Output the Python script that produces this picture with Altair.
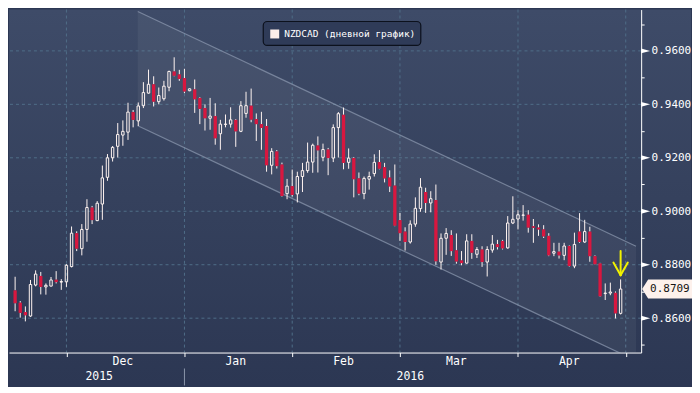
import altair as alt
import pandas as pd

# ---------------- data ----------------
series_name = "NZDCAD (дневной график)"
opens = [0.8704, 0.8658, 0.8623, 0.8608, 0.8724, 0.8758, 0.8717, 0.8720, 0.8744, 0.8735,
         0.8736, 0.8793, 0.8918, 0.8860, 0.8932, 0.9014, 0.8965, 0.9027, 0.9127, 0.9200,
         0.9243, 0.9285, 0.9296, 0.9371, 0.9338, 0.9395, 0.9442, 0.9475, 0.9410, 0.9421,
         0.9464, 0.9523, 0.9512, 0.9498, 0.9451, 0.9456, 0.9424, 0.9386, 0.9348, 0.9356,
         0.9290, 0.9325, 0.9326, 0.9342, 0.9299, 0.9366, 0.9395, 0.9345, 0.9326, 0.9319,
         0.9172, 0.9224, 0.9175, 0.9066, 0.9094, 0.9065, 0.9130, 0.9152, 0.9184, 0.9246,
         0.9202, 0.9231, 0.9199, 0.9313, 0.9361, 0.9183, 0.9199, 0.9123, 0.9066, 0.9120,
         0.9141, 0.9184, 0.9165, 0.9126, 0.9096, 0.8967, 0.8924, 0.8885, 0.8952, 0.9010,
         0.9072, 0.9031, 0.9042, 0.8810, 0.8899, 0.8911, 0.8854, 0.8816, 0.8806, 0.8889,
         0.8839, 0.8857, 0.8810, 0.8855, 0.8877, 0.8889, 0.8863, 0.8956, 0.8971, 0.8985,
         0.8987, 0.8944, 0.8939, 0.8932, 0.8908, 0.8843, 0.8849, 0.8835, 0.8870, 0.8795,
         0.8924, 0.8885, 0.8924, 0.8832, 0.8805, 0.8692, 0.8694, 0.8695, 0.8618]
highs = [0.8755, 0.8664, 0.8644, 0.8743, 0.8779, 0.8773, 0.8730, 0.8754, 0.8776, 0.8746,
         0.8802, 0.8943, 0.8925, 0.8952, 0.9045, 0.9020, 0.9038, 0.9171, 0.9214, 0.9244,
         0.9330, 0.9340, 0.9406, 0.9379, 0.9407, 0.9483, 0.9530, 0.9505, 0.9463, 0.9488,
         0.9526, 0.9576, 0.9529, 0.9533, 0.9460, 0.9493, 0.9427, 0.9400, 0.9424, 0.9404,
         0.9342, 0.9362, 0.9389, 0.9345, 0.9412, 0.9447, 0.9459, 0.9366, 0.9372, 0.9345,
         0.9236, 0.9229, 0.9182, 0.9121, 0.9156, 0.9148, 0.9181, 0.9257, 0.9253, 0.9280,
         0.9253, 0.9237, 0.9325, 0.9371, 0.9388, 0.9235, 0.9202, 0.9145, 0.9130, 0.9148,
         0.9213, 0.9229, 0.9181, 0.9153, 0.9175, 0.8994, 0.8940, 0.8966, 0.9052, 0.9124,
         0.9088, 0.9075, 0.9100, 0.8917, 0.8937, 0.8929, 0.8917, 0.8851, 0.8914, 0.8914,
         0.8866, 0.8869, 0.8869, 0.8911, 0.8893, 0.8893, 0.8982, 0.9056, 0.9004, 0.9023,
         0.9004, 0.8971, 0.8951, 0.8948, 0.8918, 0.8882, 0.8882, 0.8882, 0.8872, 0.8920,
         0.8993, 0.8968, 0.8942, 0.8835, 0.8807, 0.8730, 0.8733, 0.8700, 0.8745]
lows = [0.8626, 0.8602, 0.8588, 0.8605, 0.8719, 0.8689, 0.8688, 0.8719, 0.8730, 0.8706,
        0.8717, 0.8790, 0.8851, 0.8835, 0.8886, 0.8952, 0.8963, 0.8968, 0.9114, 0.9186,
        0.9201, 0.9245, 0.9267, 0.9314, 0.9319, 0.9386, 0.9440, 0.9392, 0.9400, 0.9414,
        0.9449, 0.9505, 0.9488, 0.9442, 0.9449, 0.9368, 0.9326, 0.9302, 0.9305, 0.9249,
        0.9230, 0.9314, 0.9313, 0.9241, 0.9296, 0.9350, 0.9333, 0.9263, 0.9230, 0.9148,
        0.9138, 0.9160, 0.9055, 0.9045, 0.9055, 0.9033, 0.9072, 0.9144, 0.9144, 0.9145,
        0.9187, 0.9135, 0.9184, 0.9201, 0.9157, 0.9159, 0.9052, 0.9060, 0.9045, 0.9081,
        0.9130, 0.9157, 0.9108, 0.9072, 0.8944, 0.8889, 0.8853, 0.8879, 0.8942, 0.8998,
        0.8994, 0.8996, 0.8800, 0.8782, 0.8837, 0.8833, 0.8804, 0.8798, 0.8804, 0.8822,
        0.8825, 0.8792, 0.8756, 0.8845, 0.8857, 0.8857, 0.8860, 0.8952, 0.8932, 0.8965,
        0.8920, 0.8882, 0.8908, 0.8900, 0.8832, 0.8832, 0.8823, 0.8817, 0.8793, 0.8787,
        0.8882, 0.8882, 0.8811, 0.8801, 0.8680, 0.8668, 0.8686, 0.8599, 0.8614]
closes = [0.8656, 0.8620, 0.8611, 0.8726, 0.8765, 0.8717, 0.8723, 0.8743, 0.8735, 0.8737,
          0.8798, 0.8918, 0.8860, 0.8932, 0.9014, 0.8967, 0.9030, 0.9125, 0.9200, 0.9239,
          0.9287, 0.9299, 0.9371, 0.9342, 0.9394, 0.9444, 0.9475, 0.9410, 0.9433, 0.9468,
          0.9523, 0.9507, 0.9495, 0.9448, 0.9458, 0.9419, 0.9383, 0.9348, 0.9356, 0.9273,
          0.9326, 0.9326, 0.9342, 0.9299, 0.9395, 0.9395, 0.9343, 0.9326, 0.9312, 0.9172,
          0.9224, 0.9169, 0.9057, 0.9094, 0.9061, 0.9130, 0.9152, 0.9184, 0.9247, 0.9228,
          0.9231, 0.9199, 0.9313, 0.9365, 0.9181, 0.9199, 0.9120, 0.9066, 0.9123, 0.9130,
          0.9183, 0.9159, 0.9123, 0.9093, 0.8946, 0.8918, 0.8885, 0.8952, 0.9011, 0.9090,
          0.9031, 0.9047, 0.8813, 0.8899, 0.8917, 0.8851, 0.8812, 0.8806, 0.8889, 0.8845,
          0.8857, 0.8810, 0.8857, 0.8877, 0.8866, 0.8861, 0.8956, 0.8970, 0.8987, 0.8986,
          0.8939, 0.8938, 0.8932, 0.8906, 0.8835, 0.8849, 0.8835, 0.8870, 0.8795, 0.8876,
          0.8885, 0.8924, 0.8832, 0.8802, 0.8682, 0.8694, 0.8698, 0.8618, 0.8709]
day = list(range(1, len(closes) + 1))          # trading-day index

month_starts = [11, 34, 55, 76, 99, 120]       # first trading day of Dec..May
month_mid = [22, 44, 65, 87, 109]
month_names = ["Dec", "Jan", "Feb", "Mar", "Apr"]
year_names = ["2015", "2016"]
year_start = 34
y_major = [0.86, 0.88, 0.90, 0.92, 0.94, 0.96]
y_ticks = [0.85, 0.86, 0.87, 0.88, 0.89, 0.90, 0.91, 0.92, 0.93, 0.94, 0.95, 0.96, 0.97]

chan_x = [24.9, 122.0]
chan_upper = [0.97475, 0.8869]
chan_lower = [0.9320, 0.84413]

arrow_x = 119
arrow_top, arrow_tip, arrow_wing, arrow_dx = 0.8851, 0.8761, 0.8808, 1.4

# ---------------- layout ----------------
W, H = 634, 344
X_DOM = [0.78, 122.03]
Y_DOM = [0.847143, 0.975464]
FONT = "DejaVu Sans Mono"
RED = "#d8173f"
WHITE = "#fff4f1"
GRID = "#4f6d88"

xs = alt.Scale(domain=X_DOM, nice=False, zero=False)
ys = alt.Scale(domain=Y_DOM, nice=False, zero=False)

label_expr = "(round(datum.value*100) % 2 == 0) ? format(datum.value, '.4f') : ''"
XAX = alt.Axis(values=month_starts, labels=False, ticks=True, tickSize=4, domain=True,
               grid=False, domainColor="white", tickColor="white", zindex=2, title=None)
YAX = alt.Axis(orient="right", values=y_ticks, labelExpr=label_expr, tickSize=3,
               labelPadding=7, grid=False, domainColor="white", tickColor="white",
               labelColor="white", labelFont=FONT, labelFontSize=11, zindex=2, title=None)


def X(f, **kw):
    return alt.X(f, type="quantitative", scale=xs, axis=XAX, title=None, **kw)


def Y(f, **kw):
    return alt.Y(f, type="quantitative", scale=ys, axis=YAX, title=None, **kw)


df = pd.DataFrame(dict(day=day, open=opens, high=highs, low=lows, close=closes))
df["top"] = df[["open", "close"]].max(axis=1)
df["bot"] = df[["open", "close"]].min(axis=1)

one = pd.DataFrame({"k": [0]})

bg = alt.Chart(one).mark_rect(
    color={"gradient": "linear", "x1": 0, "y1": 0, "x2": 0, "y2": 1,
           "stops": [{"offset": 0, "color": "#3e4b68"},
                     {"offset": 0.5, "color": "#35415d"},
                     {"offset": 1, "color": "#2c3753"}]}
).encode(x=alt.value(0), x2=alt.value(W + 50), y=alt.value(0), y2=alt.value(H + 33))

hgrid = alt.Chart(pd.DataFrame({"v": y_major})).mark_rule(
    color=GRID, strokeDash=[3, 3], strokeWidth=1).encode(y=Y("v"))
vgrid = alt.Chart(pd.DataFrame({"d": month_starts})).mark_rule(
    color=GRID, strokeDash=[3, 3], strokeWidth=1).encode(x=X("d"))

chan_df = pd.DataFrame({"x": chan_x, "up": chan_upper, "lo": chan_lower})
chan_fill = alt.Chart(chan_df).mark_area(color="white", opacity=0.05, clip=True).encode(
    x=X("x"), y=Y("up"), y2="lo")

seg_df = pd.DataFrame({"x1": [chan_x[0], chan_x[0]], "x2": [chan_x[1], chan_x[1]],
                       "y1": [chan_upper[0], chan_lower[0]], "y2": [chan_upper[1], chan_lower[1]]})
chan_lines = alt.Chart(seg_df).mark_rule(color="#8f9bb2", strokeWidth=1.2, opacity=0.7, clip=True).encode(
    x=X("x1"), x2="x2", y=Y("y1"), y2="y2")

base = alt.Chart(df)
wick_up = base.mark_rule(color=WHITE, strokeWidth=1).encode(x=X("day"), y=Y("high"), y2="top")
wick_lo = base.mark_rule(color=WHITE, strokeWidth=1).encode(x=X("day"), y=Y("bot"), y2="low")
bodies_up = base.transform_filter("datum.close >= datum.open").mark_bar(
    size=2.4, fillOpacity=0, stroke=WHITE, strokeWidth=1).encode(
    x=X("day"), y=Y("bot"), y2="top")
bodies_dn = base.transform_filter("datum.close < datum.open").mark_bar(
    size=3.3, color=RED).encode(x=X("day"), y=Y("bot"), y2="top")

markers = alt.Chart(pd.DataFrame({"v": y_major})).mark_point(
    shape="M-1,-0.55L1,0L-1,0.55Z", size=81, filled=True, color="white", opacity=1).encode(
    x=alt.value(W + 4.5), y=Y("v"))

last_df = pd.DataFrame({"v": [closes[-1]], "t": [f"{closes[-1]:.4f}"]})
tag = alt.Chart(last_df).mark_point(
    shape="M-1,0L-0.76,-0.38L1,-0.38L1,0.38L-0.76,0.38Z", size=2500, filled=True,
    color="#fdf1ec", opacity=1).encode(x=alt.value(W + 26), y=Y("v"))
tag_text = alt.Chart(last_df).mark_text(
    font=FONT, fontSize=11, color="#151515", align="left", baseline="middle").encode(
    x=alt.value(W + 9), y=Y("v"), text="t:N")

arr_df = pd.DataFrame({
    "x1": [arrow_x, arrow_x - arrow_dx, arrow_x + arrow_dx],
    "x2": [arrow_x, arrow_x, arrow_x],
    "y1": [arrow_top, arrow_wing, arrow_wing],
    "y2": [arrow_tip, arrow_tip, arrow_tip]})
arrow = alt.Chart(arr_df).mark_rule(color="#f2f200", strokeWidth=2, strokeCap="round").encode(
    x=X("x1"), x2="x2", y=Y("y1"), y2="y2")

mon = alt.Chart(pd.DataFrame({"d": month_mid, "m": month_names})).mark_text(
    font=FONT, fontSize=11.5, color="white", baseline="middle").encode(
    x=X("d"), y=alt.value(H + 9.5), text="m:N")
yr_df = pd.DataFrame({"d": [(X_DOM[0] + year_start) / 2, (year_start + X_DOM[1]) / 2],
                      "yname": year_names})
yrs = alt.Chart(yr_df).mark_text(
    font=FONT, fontSize=11.5, color="white", baseline="middle").encode(
    x=X("d"), y=alt.value(H + 24.5), text="yname:N")
yr_sep = alt.Chart(pd.DataFrame({"d": [year_start]})).mark_rule(color="#8c96aa", strokeWidth=1).encode(
    x=X("d"), y=alt.value(H + 16), y2=alt.value(H + 33))

leg_box = alt.Chart(one).mark_rect(
    fill="#2f3b58", stroke="#0c111d", strokeWidth=1.2, cornerRadius=4).encode(
    x=alt.value(255), x2=alt.value(413), y=alt.value(12), y2=alt.value(36))
leg_sw = alt.Chart(one).mark_rect(fill="#fdeeea").encode(
    x=alt.value(262), x2=alt.value(271), y=alt.value(20), y2=alt.value(29))
leg_txt = alt.Chart(pd.DataFrame({"name": [series_name]})).mark_text(
    font=FONT, fontSize=9.5, color="white", align="left", baseline="middle").encode(
    x=alt.value(276), y=alt.value(24.5), text="name:N")

chart = alt.layer(
    bg, hgrid, vgrid, chan_fill, chan_lines, wick_up, wick_lo, bodies_up, bodies_dn,
    arrow, markers, tag, tag_text, mon, yrs, yr_sep, leg_box, leg_sw, leg_txt
).properties(width=W, height=H, padding=0, background="#2c3753").configure_view(stroke=None)

chart.save("out.html", embed_options={"renderer": "svg", "actions": False})
